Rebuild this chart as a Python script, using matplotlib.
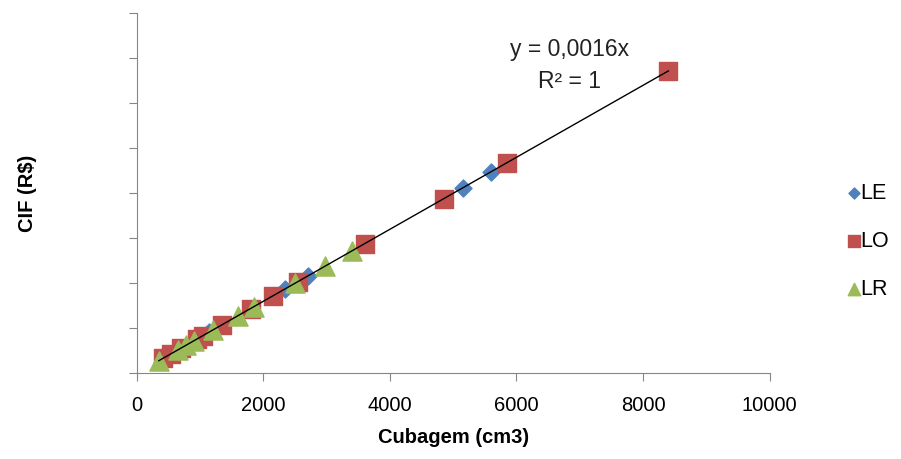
import numpy as np
import matplotlib.pyplot as plt

plt.rcParams['font.family'] = ['Liberation Sans', 'DejaVu Sans']

# valores
le_x = [600, 1150, 2350, 2700, 5150, 5600]
le_y = [0.96, 1.84, 3.76, 4.32, 8.24, 8.96]

lo_x = [420, 550, 700, 950, 1050, 1350, 1800, 2150, 2550, 3600, 4850, 5850, 8400]
lo_y = [0.67, 0.88, 1.12, 1.52, 1.68, 2.16, 2.88, 3.44, 4.08, 5.76, 7.76, 9.36, 13.44]

lr_x = [350, 650, 780, 900, 1200, 1600, 1850, 2500, 2980, 3400]
lr_y = [0.56, 1.04, 1.25, 1.44, 1.92, 2.56, 2.96, 4.00, 4.77, 5.44]

slope = 0.0016

fig = plt.figure(figsize=(9.01, 4.59), dpi=100)
ax = fig.add_axes([0.1517, 0.1867, 0.7025, 0.7843])

ax.scatter(le_x, le_y, marker='D', s=75, color='#4F81BD', label='LE', zorder=3)
ax.scatter(lo_x, lo_y, marker='s', s=170, color='#C0504D', label='LO', zorder=3)
ax.scatter(lr_x, lr_y, marker='^', s=190, color='#9BBB59', label='LR', zorder=3)

all_x = le_x + lo_x + lr_x
xs = np.array([min(all_x), max(all_x)])
ax.plot(xs, slope * xs, color='black', lw=1, zorder=4)

ax.text(6845, 14.4, 'y = 0,0016x', ha='center', va='center', fontsize=16.5, color='#222222')
ax.text(6845, 12.95, 'R² = 1', ha='center', va='center', fontsize=16.5, color='#222222')

ax.set_xlim(0, 10000)
ax.set_ylim(0, 16)
ax.set_xticks(np.arange(0, 10001, 2000))
ax.set_yticks(np.arange(0, 17, 2))
ax.set_yticklabels([])
ax.tick_params(axis='x', direction='out', length=6, color='#868686', labelsize=14.5, pad=10)
ax.tick_params(axis='y', direction='out', length=6, color='#868686')

for s in ['top', 'right']:
    ax.spines[s].set_visible(False)
for s in ['left', 'bottom']:
    ax.spines[s].set_color('#868686')

ax.set_xlabel('Cubagem (cm3)', fontsize=14.5, fontweight='bold', labelpad=10)
ax.set_ylabel('CIF (R$)', fontsize=14.5, fontweight='bold', labelpad=62)

fig.legend(loc='center left', bbox_to_anchor=(0.912, 0.474), frameon=False,
           fontsize=15.5, handletextpad=-0.3, labelspacing=1.25, handlelength=1.2,
           markerscale=0.65)

fig.savefig('out.png', dpi=100)
